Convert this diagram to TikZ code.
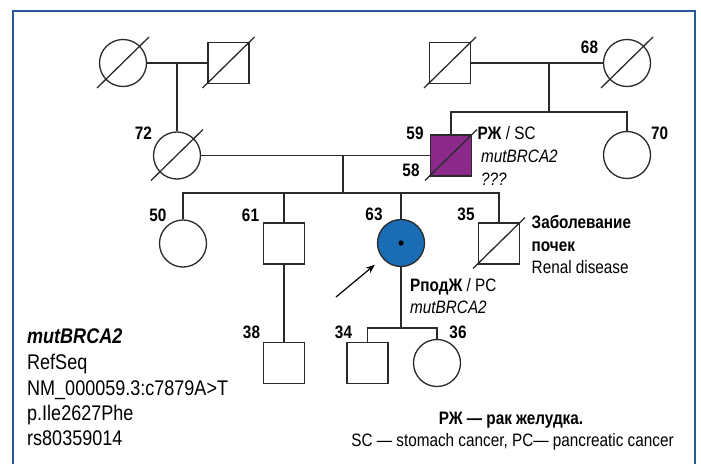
\documentclass[tikz,border=0pt]{standalone}
\usepackage{fontspec}
\setmainfont[FakeStretch=0.85]{Liberation Sans}
\usetikzlibrary{arrows.meta}
\definecolor{framecol}{HTML}{27589A}
\definecolor{purp}{HTML}{8C2A8C}
\definecolor{probblue}{HTML}{1A6DB5}
\definecolor{linecol}{HTML}{2A2A2A}
\begin{document}
\begin{tikzpicture}[x=1pt,y=-1pt,
  ln/.style={draw=linecol,line width=1.3pt},
  fem/.style={ln,circle,minimum size=47pt,inner sep=0pt},
  mal/.style={ln,rectangle,minimum size=41pt,inner sep=0pt},
  num/.style={font=\fontsize{18}{20}\selectfont\bfseries,inner sep=0pt,anchor=base},
  lab/.style={font=\fontsize{18}{20}\selectfont,inner sep=0pt,anchor=base west},
  big/.style={font=\fontsize{21.2}{23}\selectfont,inner sep=0pt,anchor=base west},
  foot/.style={font=\fontsize{18}{20}\selectfont,inner sep=0pt,anchor=base},
  slash/.style={draw=linecol,line width=1.3pt}]
\useasboundingbox (0,0) rectangle (701,463);
\fill[white] (0,0) rectangle (701,463);
\draw[framecol,line width=2.2pt] (13,470) -- (13,11) -- (695,11) -- (695,470);

% generation I
\node[fem] (i1) at (123,63) {};
\node[mal] (i2) at (228.5,63) {};
\node[mal] (i3) at (450,63) {};
\node[fem] (i4) at (627,63) {};
\draw[slash] ([shift={(-26,25)}]i1.center) -- ([shift={(26,-26)}]i1.center);
\draw[slash] ([shift={(-26,25)}]i2.center) -- ([shift={(26,-26)}]i2.center);
\draw[slash] ([shift={(-26,25)}]i3.center) -- ([shift={(26,-26)}]i3.center);
\draw[slash] ([shift={(-26,25)}]i4.center) -- ([shift={(26,-26)}]i4.center);
\draw[ln] (i1) -- (i2);
\draw[ln] (i3) -- (i4);
\coordinate (m1) at (177,63);
\coordinate (m3) at (549,63);
\coordinate (sib2) at (549,112);

% generation II
\node[fem] (ii1) at (177,155.5) {};
\node[mal,fill=purp] (ii2) at (451,155.5) {};
\node[fem] (ii3) at (627,155) {};
\draw[slash] ([shift={(-26,25)}]ii1.center) -- ([shift={(26,-26)}]ii1.center);
\draw[slash] ([shift={(-26,25)}]ii2.center) -- ([shift={(26,-26)}]ii2.center);
\draw[ln] (m1) -- (ii1);
\draw[ln] (m3) -- (sib2);
\draw[ln] (ii2.north) |- (ii3.north |- sib2) -- (ii3.north);
\draw[ln] (ii1) -- (ii2);
\coordinate (m2) at (343,155.5);
\coordinate (sib3) at (343,193);
\draw[ln] (m2) -- (sib3);

% generation III
\node[fem] (iii1) at (183,243.5) {};
\node[mal] (iii2) at (284,243.5) {};
\node[fem,fill=probblue] (iii3) at (401,243) {};
\node[mal] (iii4) at (499,243.5) {};
\fill[black] (iii3.center) circle (2.6pt);
\draw[slash] ([shift={(-26,25)}]iii4.center) -- ([shift={(26,-26)}]iii4.center);
\draw[ln] (iii1.north) |- (iii4.north |- sib3) -- (iii4.north);
\draw[ln] (iii2.north) -- (iii2.north |- sib3);
\draw[ln] (iii3.north) -- (iii3.north |- sib3);

% generation IV
\node[mal] (iv1) at (284,363) {};
\node[mal] (iv2) at (367.5,363) {};
\node[fem] (iv3) at (437,363) {};
\coordinate (sib4) at (401,328);
\draw[ln] (iii2) -- (iv1);
\draw[ln] (iii3) -- (sib4);
\draw[ln] (iv2.north) |- (iv3.north |- sib4) -- (iv3.north);

% proband arrow
\coordinate (arrtail) at (336,297);
\draw[line width=1.2pt,-{Stealth[length=9pt,width=7pt]},shorten >=10pt] (arrtail) -- (iii3);

% ages
\node[num] (n72) at (143.5,139) {72};
\node[num] (n50) at (158,221) {50};
\node[num] (n61) at (250.5,221) {61};
\node[num] (n38) at (251.5,338) {38};
\node[num] (n59) at (415,139) {59};
\node[num] (n58) at (411,176) {58};
\node[num] (n68) at (589.5,53) {68};
\node[num] (n70) at (659.5,139) {70};
\node[num] (n63) at (374,220) {63};
\node[num] (n35) at (466,220) {35};
\node[num] (n34) at (343.5,338) {34};
\node[num] (n36) at (458,338) {36};

% labels
\node[lab] (t1) at (477.5,139) {\textbf{РЖ} / SC};
\node[lab] (t2) at (481,162) {\itshape mutBRCA2};
\node[lab] (t3) at (481,185) {\itshape ???};
\node[lab] (t4) at (531.5,228) {\textbf{Заболевание}};
\node[lab] (t5) at (531.5,251) {\textbf{почек}};
\node[lab] (t6) at (531.5,273) {Renal disease};
\node[lab] (t7) at (410,291) {\textbf{РподЖ} / PC};
\node[lab] (t8) at (410,313) {\itshape mutBRCA2};

% legend
\node[big] (l1) at (27,343) {\bfseries\itshape mutBRCA2};
\node[big] (l2) at (27,369) {RefSeq};
\node[big] (l3) at (27,395) {NM\_000059.3:c7879A>T};
\node[big] (l4) at (27,420) {p.Ile2627Phe};
\node[big] (l5) at (27,445) {rs80359014};

\node[foot] (f1) at (511,424) {\bfseries РЖ — рак желудка.};
\node[foot] (f2) at (512.5,446) {SC — stomach cancer, PC— pancreatic cancer};
\end{tikzpicture}
\end{document}
